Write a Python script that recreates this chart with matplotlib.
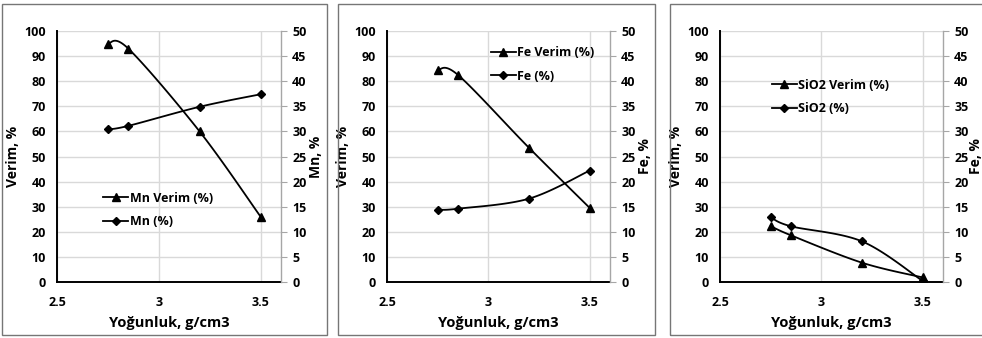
import matplotlib
matplotlib.use("Agg")
import matplotlib.pyplot as plt
from matplotlib.lines import Line2D
from matplotlib.patches import Rectangle
import numpy as np

plt.rcParams['font.family'] = ['Open Sans', 'DejaVu Sans']
plt.rcParams['font.weight'] = 'bold'

# density, g/cm3
density = [2.75, 2.85, 3.2, 3.5]

# recovery (left axis) and grade (right axis) for each element
mn_verim = [95.0, 93.0, 60.0, 26.0]
mn_grade = [30.4, 31.1, 34.9, 37.4]
fe_verim = [84.5, 82.5, 53.5, 29.5]
fe_grade = [14.4, 14.6, 16.6, 22.2]
sio2_verim = [22.3, 18.6, 7.7, 1.8]
sio2_grade = [12.9, 11.1, 8.1, 0.2]

panels = [
    ('Mn Verim (%)', 'Mn (%)', 'Mn, %', mn_verim, mn_grade),
    ('Fe Verim (%)', 'Fe (%)', 'Fe, %', fe_verim, fe_grade),
    ('SiO2 Verim (%)', 'SiO2 (%)', 'Fe, %', sio2_verim, sio2_grade),
]

W, H = 982, 338
xlim = (2.5, 3.6)

# pixel layout: plot-area left/right, outer box left/right
ax_px = [(57, 281), (387, 610), (720, 943)]
box_px = [(2, 327), (338, 655), (670, 995)]
ax_top, ax_bot = 31, 282
# legend: handle start (axes fraction), top (axes fraction)
leg_pos = [(0.207, 0.36), (0.466, 0.94), (0.232, 0.81)]

GRID = '#d9d9d9'


def excel_smooth(xs, ys, ylim, wpx, hpx, n=40):
    # bezier smoothing like Excel, computed in pixel space
    sx = wpx / (xlim[1] - xlim[0])
    sy = hpx / (ylim[1] - ylim[0])
    p = np.column_stack([(np.array(xs) - xlim[0]) * sx,
                         (np.array(ys) - ylim[0]) * sy])
    m = len(p)
    out = []
    t = np.linspace(0, 1, n)[:, None]
    for i in range(m - 1):
        a, d = p[i], p[i + 1]
        if i == 0:
            b = a + (d - a) / 6
        else:
            b = a + (p[i + 1] - p[i - 1]) / 6
        if i + 1 == m - 1:
            c = d - (d - a) / 6
        else:
            c = d - (p[i + 2] - p[i]) / 6
        seg = ((1 - t) ** 3) * a + 3 * ((1 - t) ** 2) * t * b + 3 * (1 - t) * t ** 2 * c + t ** 3 * d
        out.append(seg)
    pts = np.vstack(out)
    return pts[:, 0] / sx + xlim[0], pts[:, 1] / sy + ylim[0]


fig = plt.figure(figsize=(W / 100, H / 100), dpi=100)

for k, (lab1, lab2, rlabel, yv, yg) in enumerate(panels):
    bl, br = box_px[k]
    fig.patches.append(Rectangle((bl / W, 1 - 335 / H), (br - bl) / W, (335 - 4) / H,
                                 transform=fig.transFigure, fill=False,
                                 edgecolor='#767676', linewidth=1.0))
    l, r = ax_px[k]
    ax = fig.add_axes([l / W, 1 - ax_bot / H, (r - l) / W, (ax_bot - ax_top) / H])
    ax2 = ax.twinx()
    wpx, hpx = r - l, ax_bot - ax_top

    ax.set_xlim(*xlim)
    ax.set_ylim(0, 100)
    ax2.set_ylim(0, 50)
    ax.set_xticks([2.5, 3, 3.5])
    ax.set_xticklabels(['2.5', '3', '3.5'])
    ax.set_yticks(np.arange(0, 101, 10))
    ax2.set_yticks(np.arange(0, 51, 5))
    ax.grid(True, color=GRID, linewidth=1.0)
    ax.set_axisbelow(True)

    for s in ['top', 'right']:
        ax.spines[s].set_visible(False)
    for s in ['left', 'bottom']:
        ax.spines[s].set_linewidth(1.4)
        ax.spines[s].set_color('black')
    for s in ['top', 'left', 'bottom']:
        ax2.spines[s].set_visible(False)
    ax2.spines['right'].set_color('#a6a6a6')
    ax2.spines['right'].set_linewidth(1.0)

    ax.tick_params(axis='both', length=0, labelsize=9)
    ax.tick_params(axis='y', pad=8)
    ax.tick_params(axis='x', pad=10)
    ax2.tick_params(axis='y', length=4, color='#a6a6a6', labelsize=9, pad=4)

    ax.set_xlabel('Yoğunluk, g/cm3', fontsize=10.5, fontweight='bold', labelpad=5)
    ax.set_ylabel('Verim, %', fontsize=10, fontweight='bold', labelpad=3)
    # last panel's right label sits at the very edge, as in the source
    ax2.set_ylabel(rlabel, fontsize=10, fontweight='bold', labelpad=0 if k == 2 else 2)

    xs, ys = excel_smooth(density, yv, (0, 100), wpx, hpx)
    ax.plot(xs, ys, color='black', linewidth=1.3, zorder=3)
    ax.plot(density, yv, linestyle='none', marker='^', markersize=6,
            color='black', zorder=4)
    xs, ys = excel_smooth(density, yg, (0, 50), wpx, hpx)
    ax2.plot(xs, ys, color='black', linewidth=1.3, zorder=3)
    ax2.plot(density, yg, linestyle='none', marker='D', markersize=4.5,
             color='black', zorder=4)

    handles = [Line2D([], [], color='black', linewidth=1.3, marker='^', markersize=6),
               Line2D([], [], color='black', linewidth=1.3, marker='D', markersize=4.5)]
    ax2.legend(handles, [lab1, lab2], loc='upper left', bbox_to_anchor=leg_pos[k],
               frameon=False, handlelength=2.0, handletextpad=0.1,
               labelspacing=0.85, borderpad=0, borderaxespad=0,
               prop={'weight': 'bold', 'size': 9})

fig.savefig('out.png', dpi=100)
